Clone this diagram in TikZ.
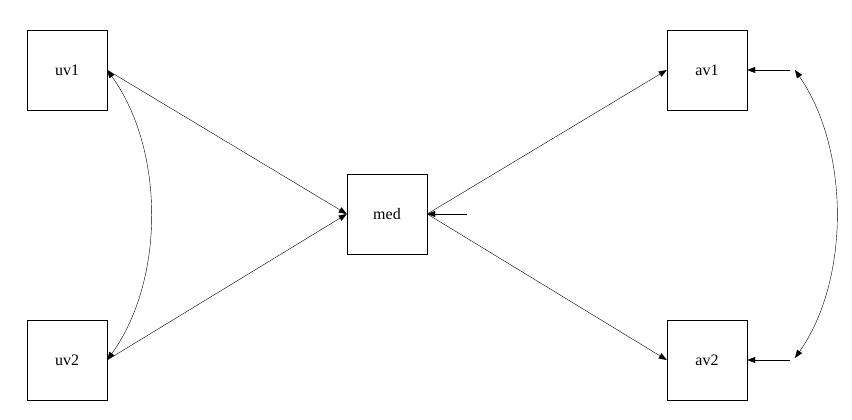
\documentclass[tikz,border=0pt]{standalone}
\usepackage{fontspec}
\setmainfont{Liberation Serif}
\usetikzlibrary{arrows.meta}
\begin{document}
\begin{tikzpicture}[x=1pt,y=-1pt,
  var/.style={draw,minimum width=80pt,minimum height=80pt,inner sep=0pt,font=\fontsize{16}{18}\selectfont},
  arr/.style={-{Triangle[length=8pt,width=6pt]}},
  darr/.style={{Triangle[length=8pt,width=6pt]}-{Triangle[length=8pt,width=6pt]}}]
\useasboundingbox (0,0) rectangle (852,420);
\node[var] (uv1) at (67,70) {uv1};
\node[var] (uv2) at (67,360) {uv2};
\node[var] (med) at (387,214) {med};
\node[var] (av1) at (707,70) {av1};
\node[var] (av2) at (707,360) {av2};
\coordinate (r) at (467,214);
\coordinate (e1) at (790,70);
\coordinate (e2) at (790,360);
\coordinate (c1) at (795,70);
\coordinate (c2) at (795,358);
\draw[arr] (uv1.east) -- (med.west);
\draw[arr] (uv2.east) -- (med.west);
\draw[arr] (med.east) -- (av1.west);
\draw[arr] (med.east) -- (av2.west);
\draw[arr] (r) -- (med.east);
\draw[arr] (e1) -- (av1.east);
\draw[arr] (e2) -- (av2.east);
\draw[darr] (uv1.east) .. controls (165,150) and (165,280) .. (uv2.east);
\draw[darr] (c1) .. controls (850,150) and (850,280) .. (c2);
\end{tikzpicture}
\end{document}
